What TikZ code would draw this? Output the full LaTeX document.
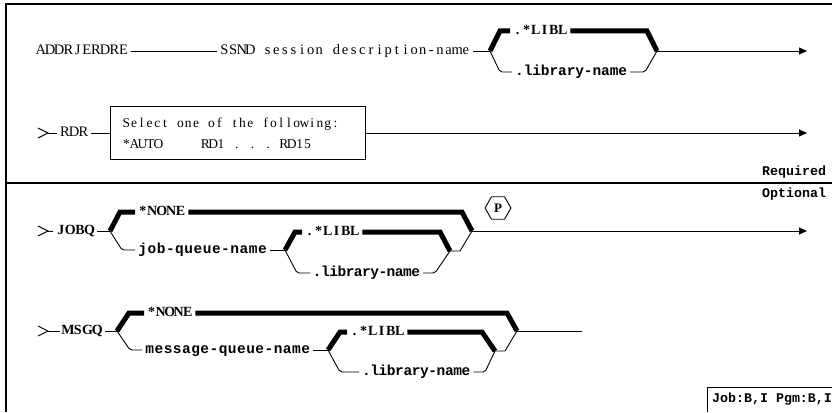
\documentclass[tikz,border=0pt]{standalone}
\usepackage{fontspec}
\setmainfont{Liberation Serif}
\newfontfamily\serifc{Liberation Serif}
\newfontfamily\monof{Liberation Mono}
\usetikzlibrary{shapes.geometric,arrows.meta}
\ExplSyntaxOn
\NewDocumentCommand\pitch{mm}{\str_map_inline:nn{#2}{\makebox[#1]{##1}}}
\ExplSyntaxOff
\tikzset{
  txt/.style={anchor=west, inner xsep=3pt, inner ysep=0pt, text height=2ex, text depth=0.3ex},
  sr/.style={txt, font=\serifc\fontsize{14.5}{16}\selectfont},
  bsr/.style={txt, font=\serifc\fontsize{14}{16}\selectfont\bfseries},
  mb/.style={txt, font=\monof\fontsize{14.5}{16}\selectfont\bfseries},
  lab/.style={txt, font=\monof\fontsize{13.3}{15}\selectfont\bfseries},
  thin/.style={line width=0.9pt},
  heavy/.style={line width=5pt, line join=miter, line cap=butt},
  arr/.style={thin, -{Triangle[length=8pt,width=7pt]}},
  frame/.style={line width=1.2pt},
  gtsym/.style={thin}
}
\begin{document}
\begin{tikzpicture}[x=1pt, y=-1pt]
\useasboundingbox (0,0) rectangle (832,412);
% frame
\draw[frame] (6,412) -- (6,4) -- (832,4);
\draw[frame] (6,183) -- (832,183);

% ---------- Row 1
\node[sr] (addr) at (33,51) {\pitch{9.2pt}{ADDRJERDRE}};
\node[sr] (ssnd) at (217,51) {\pitch{8.62pt}{SSND session description-name}};
\draw[thin] (addr) -- (ssnd);
\coordinate (j1s) at (490,51);
\coordinate (j1e) at (657,51);
\coordinate (a1) at (807,51);
\node[bsr] (libl1) at (510,31) {\pitch{9pt}{.*LIBL}};
\node[mb] (lib1) at (512,72) {\pitch{8.6pt}{.library-name}};
\coordinate (u1e) at (647,31);
\draw[thin] (ssnd) -- (j1s);
\draw[heavy] (j1s) -- (500,31) -- (libl1.west);
\draw[heavy] (libl1.east) -- (u1e) -- (j1e);
\draw[thin, rounded corners=2pt] (j1s) -- (500,72) -- (lib1.west);
\draw[thin, rounded corners=2pt] (lib1.east) -- (645,72) -- (j1e);
\draw[arr] (j1e) -- (a1);

% ---------- Row 2
\coordinate (g2) at (48,133);
\draw[gtsym] (38,128) -- (g2) -- (38,138);
\node[sr] (rdr) at (57,133) {\pitch{9.3pt}{RDR}};
\draw[thin] (g2) -- (rdr);
\node[draw, thin, anchor=west, minimum width=255pt, minimum height=53pt,
      inner xsep=12pt, text width=231pt, align=left,
      font=\serifc\fontsize{13.5}{21}\selectfont] (box) at (110,133)
  {\pitch{7.75pt}{Select one of the following:}\\
   \pitch{8pt}{*AUTO}\hspace{39pt}\pitch{7.86pt}{RD1 . . . RD15}};
\coordinate (a2) at (807,133);
\draw[thin] (rdr) -- (box);
\draw[arr] (box) -- (a2);

% Required / Optional
\node[lab] (req) at (759,172) {Required};
\node[lab] (opt) at (759,194) {Optional};

% ---------- Row 3 JOBQ
\coordinate (g3) at (48,231);
\draw[gtsym] (38,226) -- (g3) -- (38,236);
\node[bsr] (jobq) at (53,231) {\pitch{9.5pt}{JOBQ}};
\draw[thin] (g3) -- (jobq);
\coordinate (j3s) at (110,231);
\coordinate (j3e) at (472,231);
\coordinate (u3e) at (462,212);
\coordinate (a3) at (807,231);
\draw[thin] (jobq) -- (j3s);
\node[bsr] (none3) at (135,212) {\pitch{9.4pt}{*NONE}};
\node[mb] (jq) at (135,250) {\pitch{9.2pt}{job-queue-name}};
\draw[heavy] (j3s) -- (120,212) -- (none3.west);
\draw[heavy] (none3.east) -- (u3e) -- (j3e);
\draw[thin, rounded corners=2pt] (j3s) -- (122,250) -- (jq.west);
\coordinate (j4s) at (285,250);
\coordinate (j4e) at (450,251);
\coordinate (u4e) at (440,232);
\draw[thin] (jq) -- (j4s);
\node[bsr] (libl3) at (302,232) {\pitch{9pt}{.*LIBL}};
\node[mb] (lib3) at (310,273) {\pitch{8.2pt}{.library-name}};
\draw[heavy] (j4s) -- (295,232) -- (libl3.west);
\draw[heavy] (libl3.east) -- (u4e) -- (j4e);
\draw[thin, rounded corners=2pt] (j4s) -- (297,273) -- (lib3.west);
\draw[thin, rounded corners=2pt] (lib3.east) -- (435,273) -- (j4e);
\draw[thin] (j4e) -- (460,251) -- (j3e);
\draw[arr] (j3e) -- (a3);
\node[draw, thin, regular polygon, regular polygon sides=6, minimum size=26pt, inner sep=0pt,
      font=\serifc\fontsize{13}{15}\selectfont\bfseries] (pp) at (498,208) {P};

% ---------- Row 4 MSGQ
\coordinate (g4) at (48,331);
\draw[gtsym] (38,326) -- (g4) -- (38,336);
\node[bsr] (msgq) at (60,331) {\pitch{9.75pt}{MSGQ}};
\draw[thin] (g4) -- (msgq);
\coordinate (j5s) at (117,331);
\coordinate (j5e) at (517,331);
\coordinate (u5e) at (507,313);
\coordinate (e5) at (582,331);
\draw[thin] (msgq) -- (j5s);
\node[bsr] (none4) at (144,313) {\pitch{9pt}{*NONE}};
\node[mb] (mq) at (142,350) {\pitch{9.17pt}{message-queue-name}};
\draw[heavy] (j5s) -- (129,313) -- (none4.west);
\draw[heavy] (none4.east) -- (u5e) -- (j5e);
\draw[thin, rounded corners=2pt] (j5s) -- (130,350) -- (mq.west);
\coordinate (j6s) at (328,350);
\coordinate (j6e) at (495,351);
\coordinate (u6e) at (482,332);
\draw[thin] (mq) -- (j6s);
\node[bsr] (libl4) at (347,332) {\pitch{9pt}{.*LIBL}};
\node[mb] (lib4) at (359,372) {\pitch{8.3pt}{.library-name}};
\draw[heavy] (j6s) -- (340,332) -- (libl4.west);
\draw[heavy] (libl4.east) -- (u6e) -- (j6e);
\draw[thin, rounded corners=2pt] (j6s) -- (340,372) -- (lib4.west);
\draw[thin, rounded corners=2pt] (lib4.east) -- (485,372) -- (j6e);
\draw[thin] (j6e) -- (505,351) -- (j5e);
\draw[thin] (j5e) -- (e5);

% ---------- Job box
\node[lab] (jobpgm) at (709,399) {Job:B,I Pgm:B,I};
\draw[thin] (707,412) |- (832,387);
\end{tikzpicture}
\end{document}
